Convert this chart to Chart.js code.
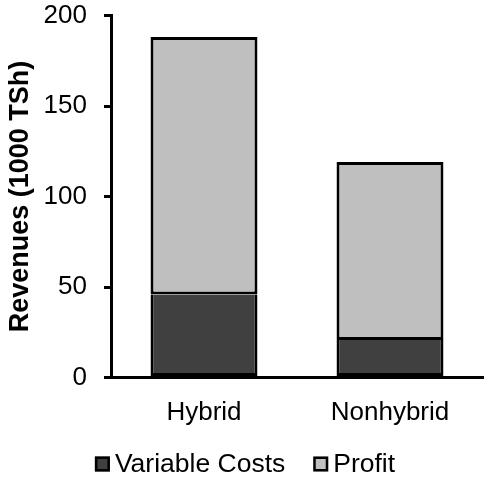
<!DOCTYPE html>
<html><head><meta charset="utf-8">
<script src="https://cdn.jsdelivr.net/npm/chart.js@4"></script>
<style>html,body{margin:0;padding:0;background:#fff}#w{width:484px;height:485px}</style>
</head><body><div id="w"><canvas id="c"></canvas></div>
<script>
const categories = ["Hybrid", "Nonhybrid"];
const variableCosts = [45.9, 20.7];
const profit = [142.2, 98.3];
const yTicks = [0, 50, 100, 150, 200];

const FONT = "'Liberation Sans', Arial, sans-serif";
Chart.defaults.font.family = FONT;
Chart.defaults.color = "#000";

const bottomLegend = {
  id: 'bottomLegend',
  afterDraw(chart) {
    const ctx = chart.ctx;
    const size = 26.5, box = 15, gapText = 5, gapItem = 28;
    ctx.save();
    ctx.font = size + "px " + FONT;
    const items = chart.data.datasets.map(d => ({label: d.label, color: d.backgroundColor, w: box + gapText + ctx.measureText(d.label).width}));
    const total = items.reduce((s, it) => s + it.w, 0) + gapItem * (items.length - 1);
    let x = (chart.width - total) / 2 + 3;
    const cy = 464;
    items.forEach(it => {
      ctx.fillStyle = it.color;
      ctx.fillRect(x, cy - box / 2, box, box);
      ctx.lineWidth = 2.5;
      ctx.strokeStyle = '#000';
      ctx.strokeRect(x + 1.25, cy - box / 2 + 1.25, box - 2.5, box - 2.5);
      ctx.fillStyle = '#000';
      ctx.textBaseline = 'middle';
      ctx.textAlign = 'left';
      ctx.fillText(it.label, x + box + gapText, cy + 1);
      x += it.w + gapItem;
    });
    ctx.restore();
  }
};

new Chart(document.getElementById('c'), {
  type: 'bar',
  data: {
    labels: categories,
    datasets: [
      {label: 'Variable Costs', data: variableCosts, backgroundColor: '#404040', borderColor: '#000', borderWidth: 3, borderSkipped: 'top', barPercentage: 0.575, categoryPercentage: 1},
      {label: 'Profit', data: profit, backgroundColor: '#bfbfbf', borderColor: '#000', borderWidth: 3, borderSkipped: false, barPercentage: 0.575, categoryPercentage: 1}
    ]
  },
  plugins: [bottomLegend],
  options: {
    responsive: true, maintainAspectRatio: false, animation: false,
    layout: {padding: {top: 15.5, right: 1, left: 2, bottom: 56}},
    plugins: {
      tooltip: {enabled: false},
      legend: {display: false}
    },
    scales: {
      x: {stacked: true, grid: {display: false, drawTicks: false}, border: {color: '#000', width: 3},
          ticks: {font: {size: 26}, padding: 20, color: '#000', maxRotation: 0},
          afterFit: s => { s.height = 51.5; s.paddingLeft = 0; s.paddingRight = 0; }},
      y: {stacked: true, min: 0, max: 200, afterBuildTicks: a => { a.ticks = yTicks.map(v => ({value: v})); },
          grid: {drawOnChartArea: false, color: '#000', tickLength: 7, lineWidth: 3}, border: {color: '#000', width: 3},
          ticks: {font: {size: 26}, padding: 17, color: '#000'},
          title: {display: true, text: 'Revenues (1000 TSh)', font: {size: 27, weight: 'bold'}, color: '#000', padding: {top: 2, bottom: 0}},
          afterFit: s => { s.width = 109; s.paddingTop = 0; s.paddingBottom = 0; }}
    }
  }
});
</script></body></html>
